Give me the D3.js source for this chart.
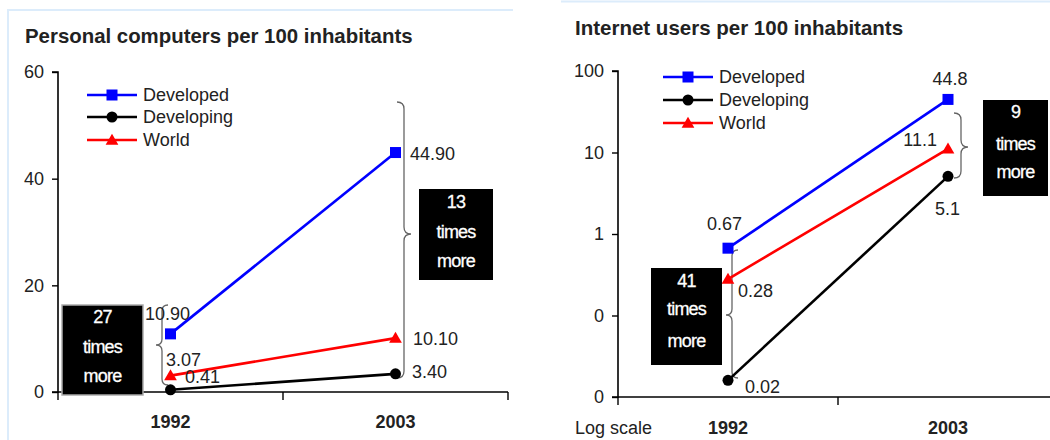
<!DOCTYPE html>
<html>
<head>
<meta charset="utf-8">
<script src="https://cdn.jsdelivr.net/npm/d3@7/dist/d3.min.js"></script>
<style>
  html, body { margin: 0; padding: 0; background: #fff; }
  svg { display: block; font-family: "Liberation Sans", Arial, sans-serif; }
</style>
</head>
<body>
<svg id="chart" width="1050" height="440"></svg>
<script>
// ---------- DATA ----------
const years = ["1992", "2003"];
const seriesNames = ["Developed", "Developing", "World"];

const pcTitle = "Personal computers per 100 inhabitants";
const pcDeveloped = [10.90, 44.90];
const pcDeveloping = [0.41, 3.40];
const pcWorld = [3.07, 10.10];
const pcDevelopedLabels = ["10.90", "44.90"];
const pcDevelopingLabels = ["0.41", "3.40"];
const pcWorldLabels = ["3.07", "10.10"];
const pcTicks = [0, 20, 40, 60];
const pcTickLabels = ["0", "20", "40", "60"];
const pcRatios = ["27", "13"];

const netTitle = "Internet users per 100 inhabitants";
const netDeveloped = [0.67, 44.8];
const netDeveloping = [0.016, 5.1];
const netWorld = [0.28, 11.1];
const netDevelopedLabels = ["0.67", "44.8"];
const netDevelopingLabels = ["0.02", "5.1"];
const netWorldLabels = ["0.28", "11.1"];
const netTicks = [0.01, 0.1, 1, 10, 100];
const netTickLabels = ["0", "0", "1", "10", "100"];
const netRatios = ["41", "9"];
const netNote = "Log scale";

// ---------- STYLE ----------
const colors = { Developed: "#0000ff", Developing: "#000000", World: "#ff0000" };
const FONT = 18;
const svg = d3.select("#chart");

// panel borders (light blue)
svg.append("path").attr("d", "M8,440 L8,10 L513,10")
  .attr("fill", "none").attr("stroke", "#dcecfb").attr("stroke-width", 2);
svg.append("path").attr("d", "M561,1.5 L1050,1.5")
  .attr("fill", "none").attr("stroke", "#dcecfb").attr("stroke-width", 2);

function marker(g, type, x, y, color) {
  if (type === "Developed") {
    g.append("rect").attr("x", x - 5.5).attr("y", y - 5.5).attr("width", 11).attr("height", 11).attr("fill", color);
  } else if (type === "Developing") {
    g.append("circle").attr("cx", x).attr("cy", y).attr("r", 5.5).attr("fill", color);
  } else {
    g.append("path").attr("d", d3.symbol().type(d3.symbolTriangle).size(70)()).attr("transform", `translate(${x},${y + 1})`).attr("fill", color);
  }
}

function brace(g, x, y1, y2, ym, dir, w) {
  const p = `M${x - dir * w},${y1} Q${x},${y1} ${x},${y1 + w} L${x},${ym - w} Q${x},${ym} ${x + dir * w},${ym} Q${x},${ym} ${x},${ym + w} L${x},${y2 - w} Q${x},${y2} ${x - dir * w},${y2}`;
  g.append("path").attr("d", p).attr("fill", "none").attr("stroke", "#666").attr("stroke-width", 1.3);
}

function ratioBox(g, x0, y0, x1, y1, txt, baselines, border) {
  g.append("rect").attr("x", x0).attr("y", y0).attr("width", x1 - x0).attr("height", y1 - y0)
    .attr("fill", "#000").attr("stroke", border ? "#aaa" : "none").attr("stroke-width", 1.5);
  const cx = (x0 + x1) / 2;
  [txt, "times", "more"].forEach((t, i) => {
    g.append("text").attr("x", cx).attr("y", baselines[i]).attr("text-anchor", "middle")
      .attr("fill", "#fff").attr("font-size", FONT).attr("letter-spacing", -0.8)
      .attr("stroke", "#fff").attr("stroke-width", 0.3).text(t);
  });
}

function drawPanel(cfg) {
  const g = svg.append("g");
  const x = d3.scaleBand().domain(years).range(cfg.xRange);
  const cxp = d => x(d) + x.bandwidth() / 2;
  const y = cfg.y;

  // title
  g.append("text").attr("x", cfg.titleX).attr("y", cfg.titleY).attr("font-size", cfg.titleSize)
    .attr("font-weight", "bold").attr("fill", "#222").text(cfg.title);

  // y axis
  const yAxis = d3.axisLeft(y).tickValues(cfg.ticks).tickSize(6).tickPadding(8)
    .tickFormat((d, i) => cfg.tickLabels[i]);
  const ya = g.append("g").attr("transform", `translate(${cfg.xRange[0]},0)`).call(yAxis);
  ya.select(".domain").attr("stroke", "#000").attr("stroke-width", 1.6)
    .attr("d", `M-6,${y.range()[1]}H0V${y.range()[0]}H-6`);
  ya.selectAll(".tick line").attr("stroke", "#000").attr("stroke-width", 1.4);
  ya.selectAll(".tick text").attr("font-size", FONT).attr("fill", "#222")
    .attr("font-family", "Liberation Sans, Arial, sans-serif");

  // x axis
  const y0 = y.range()[0];
  const bounds = years.map(d => x(d)).concat([cfg.xRange[1]]);
  g.append("line").attr("x1", cfg.xRange[0]).attr("x2", cfg.xRange[1]).attr("y1", y0).attr("y2", y0)
    .attr("stroke", "#000").attr("stroke-width", 1.6);
  bounds.forEach(b => g.append("line").attr("x1", b).attr("x2", b).attr("y1", y0).attr("y2", y0 + 8)
    .attr("stroke", "#000").attr("stroke-width", 1.4));
  years.forEach(d => g.append("text").attr("x", cxp(d)).attr("y", cfg.xLabelY).attr("text-anchor", "middle")
    .attr("font-size", FONT).attr("font-weight", "bold").attr("fill", "#222").text(d));
  if (cfg.note) g.append("text").attr("x", cfg.noteX).attr("y", cfg.xLabelY).attr("font-size", FONT)
    .attr("fill", "#222").text(cfg.note);

  // braces
  cfg.braces.forEach(b => brace(g, b[0], b[1], b[2], b[3], b[4], b[5]));

  // series
  const line = d3.line().x((v, i) => cxp(years[i])).y(v => y(v));
  cfg.series.forEach(s => {
    g.append("path").datum(s.values).attr("d", line).attr("fill", "none")
      .attr("stroke", colors[s.name]).attr("stroke-width", 2.6);
    s.values.forEach((v, i) => marker(g, s.name, cxp(years[i]), y(v), colors[s.name]));
  });

  // boxes
  cfg.boxes.forEach(b => ratioBox(g, b.x0, b.y0, b.x1, b.y1, b.txt, b.bl, b.border));

  // value labels
  cfg.series.forEach(s => {
    s.values.forEach((v, i) => {
      const o = s.offsets[i];
      g.append("text").attr("x", cxp(years[i]) + o[0]).attr("y", y(v) + o[1])
        .attr("text-anchor", o[2] || "start").attr("font-size", FONT).attr("fill", "#222")
        .text(s.labels[i]);
    });
  });

  // legend
  seriesNames.forEach((n, i) => {
    const ly = cfg.legendY[i];
    g.append("line").attr("x1", cfg.legendX).attr("x2", cfg.legendX + 50).attr("y1", ly).attr("y2", ly)
      .attr("stroke", colors[n]).attr("stroke-width", 2.6);
    marker(g, n, cfg.legendX + 25, ly, colors[n]);
    g.append("text").attr("x", cfg.legendX + 56).attr("y", ly + 6).attr("font-size", FONT)
      .attr("fill", "#222").text(n);
  });
}

drawPanel({
  title: pcTitle, titleX: 25, titleY: 43, titleSize: 20.4,
  xRange: [58, 508],
  y: d3.scaleLinear().domain([0, 60]).range([392, 72]),
  ticks: pcTicks, tickLabels: pcTickLabels,
  xLabelY: 428,
  legendX: 87, legendY: [95, 117, 140],
  series: [
    { name: "Developed", values: pcDeveloped, labels: pcDevelopedLabels, offsets: [[-25.5, -14], [14.5, 7.5]] },
    { name: "Developing", values: pcDeveloping, labels: pcDevelopingLabels, offsets: [[14.5, -7], [16.5, 4]] },
    { name: "World", values: pcWorld, labels: pcWorldLabels, offsets: [[-4.5, -9.6], [17.5, 7]] }
  ],
  braces: [[162, 305, 385, 345, -1, 6], [404, 102, 378, 234, 1, 7]],
  boxes: [
    { x0: 62, y0: 305, x1: 143, y1: 395, txt: pcRatios[0], bl: [323, 353, 382], border: true },
    { x0: 419, y0: 189, x1: 493, y1: 280, txt: pcRatios[1], bl: [208, 238, 267] }
  ]
});

drawPanel({
  title: netTitle, titleX: 575, titleY: 35, titleSize: 20.5,
  xRange: [618, 1058],
  y: d3.scaleLog().domain([0.01, 100]).range([397, 71]),
  ticks: netTicks, tickLabels: netTickLabels,
  xLabelY: 434, note: netNote, noteX: 575,
  legendX: 663, legendY: [77, 100, 123],
  series: [
    { name: "Developed", values: netDeveloped, labels: netDevelopedLabels, offsets: [[-21, -18], [2, -14, "middle"]] },
    { name: "Developing", values: netDeveloping, labels: netDevelopingLabels, offsets: [[17, 13], [-13, 39]] },
    { name: "World", values: netWorld, labels: netWorldLabels, offsets: [[10, 18], [-11, -3, "end"]] }
  ],
  braces: [[732, 250, 378, 315, -1, 6], [961, 113, 178, 147, 1, 7]],
  boxes: [
    { x0: 651, y0: 268, x1: 722, y1: 365, txt: netRatios[0], bl: [287, 315, 347] },
    { x0: 983, y0: 100, x1: 1048, y1: 196, txt: netRatios[1], bl: [118, 150, 178] }
  ]
});
</script>
</body>
</html>
